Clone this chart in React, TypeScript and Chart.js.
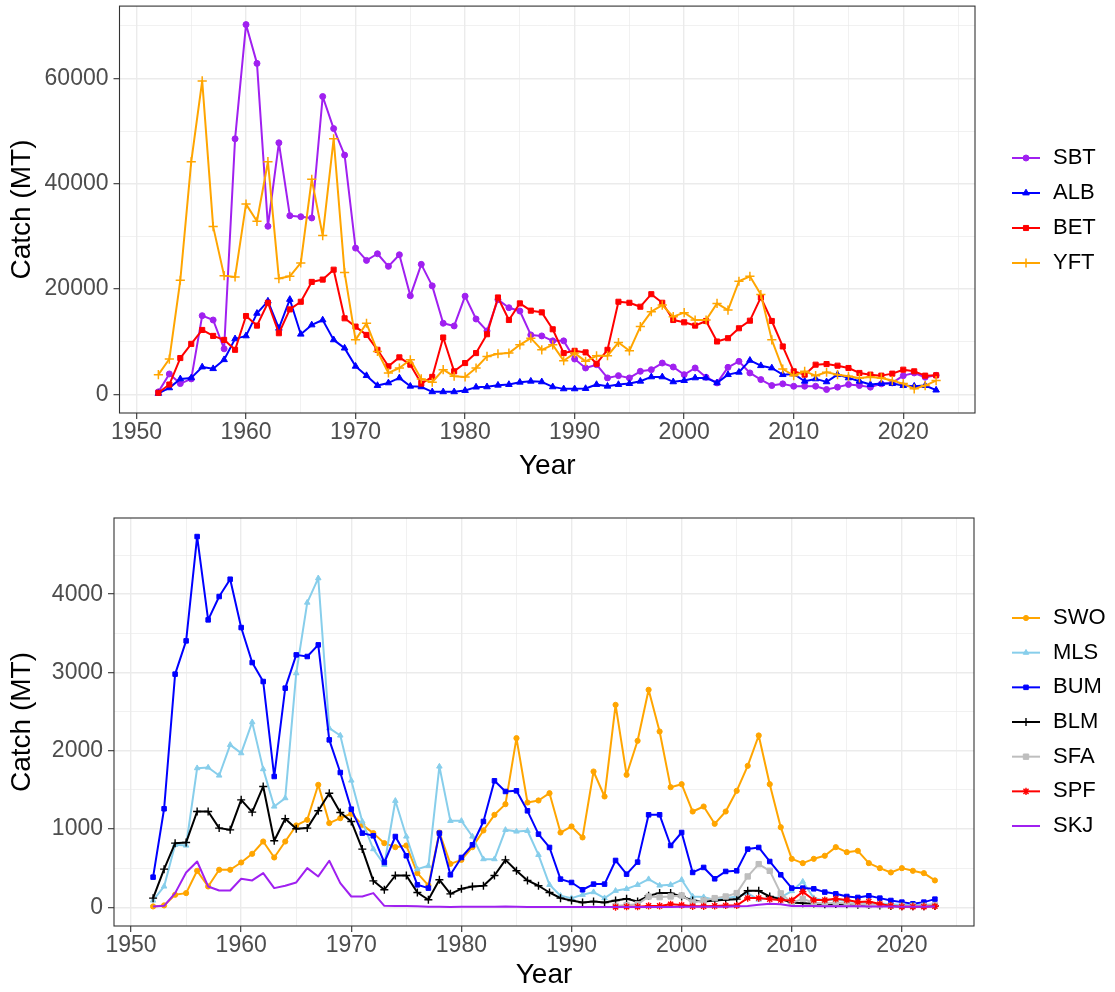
import React, { useEffect, useRef } from 'react';
import { Chart, registerables } from 'chart.js';
import { drawPoint } from 'chart.js/helpers';

Chart.register(...registerables);

const FONT = "'Liberation Sans', Arial, Helvetica, sans-serif";

const YEARS = [
  1952, 1953, 1954, 1955, 1956, 1957, 1958, 1959, 1960, 1961, 1962, 1963, 1964, 1965, 1966, 1967, 1968,
  1969, 1970, 1971, 1972, 1973, 1974, 1975, 1976, 1977, 1978, 1979, 1980, 1981, 1982, 1983, 1984, 1985, 1986, 1987, 1988,
  1989, 1990, 1991, 1992, 1993, 1994, 1995, 1996, 1997, 1998, 1999, 2000, 2001, 2002, 2003, 2004, 2005, 2006, 2007, 2008,
  2009, 2010, 2011, 2012, 2013, 2014, 2015, 2016, 2017, 2018, 2019, 2020, 2021, 2022, 2023,
];
const YEARS_LATE = [
  1994, 1995, 1996, 1997, 1998, 1999, 2000, 2001, 2002, 2003, 2004, 2005, 2006, 2007, 2008,
  2009, 2010, 2011, 2012, 2013, 2014, 2015, 2016, 2017, 2018, 2019, 2020, 2021, 2022, 2023,
];

// ---- Top panel (tunas) ----
const SBT = [
  500, 3900, 2070, 2960, 14960, 14140, 8670, 48520, 70200, 62840, 31930, 47770, 33930, 33740, 33500, 56550, 50460,
  45430, 27780, 25450, 26710, 24320, 26520, 18730, 24700, 20620, 13520, 13010, 18660, 14330, 12070, 18000, 16470, 15840, 11310, 11120, 10180,
  10180, 6730, 5030, 5660, 3150, 3580, 3150, 4400, 4710, 5970, 5220, 3770, 5030, 3280, 2200, 5160, 6290, 4090, 2830, 1700,
  2020, 1570, 1570, 1570, 950, 1400, 1890, 1700, 1400, 2020, 2200, 3580, 4090, 3280, 3650,
];
const ALB = [
  200, 1260, 2960, 3150, 5220, 4900, 6600, 10560, 11120, 15400, 17720, 12570, 18040, 11440, 13200, 14140, 10370,
  8800, 5350, 3580, 1700, 2200, 3150, 1570, 1450, 510, 510, 510, 750, 1400, 1450, 1760, 1890, 2330, 2520, 2400, 1450,
  1070, 1070, 1130, 1890, 1570, 1890, 2070, 2520, 3340, 3340, 2400, 2640, 3150, 3150, 2200, 3770, 4220, 6480, 5470, 5030,
  3770, 3900, 2520, 2960, 2400, 3770, 3150, 2520, 1890, 2070, 2070, 1700, 1570, 1700, 830,
];
const BET = [
  320, 1890, 6920, 9610, 12250, 11120, 10370, 8480, 14890, 13080, 17410, 11630, 16150, 17600, 21370, 21810, 23690,
  14460, 12890, 11310, 8480, 5350, 7050, 5660, 2070, 3340, 10820, 4400, 5970, 7860, 11440, 18420, 14140, 17290, 15910, 15590, 12380,
  7860, 8290, 7990, 5840, 8480, 17600, 17410, 16660, 19040, 17410, 14140, 13700, 13080, 13950, 10060, 10690, 12570, 14010, 18420, 13950,
  9120, 4400, 3770, 5660, 5780, 5470, 5030, 4090, 3770, 3580, 3960, 4710, 4400, 3580, 3650,
];
const YFT = [
  3770, 6730, 21680, 44180, 59510, 31860, 22560, 22320, 36130, 32870, 44180, 22000, 22430, 24960, 40850, 30160, 48520,
  23130, 10370, 13520, 8180, 4090, 5030, 6600, 2960, 2330, 4710, 3460, 3340, 5030, 7230, 7730, 7860, 9430, 10690, 8480, 9430,
  6410, 7860, 6290, 7350, 7350, 9870, 8290, 12890, 15720, 16970, 14770, 15530, 14140, 14140, 17290, 16020, 21490, 22430, 18980, 10370,
  4840, 3580, 4400, 3580, 4220, 3770, 3460, 3150, 3340, 3150, 2640, 2070, 1070, 1700, 2640,
];

// ---- Bottom panel (billfishes etc.) ----
const SWO = [
  13, 26, 162, 183, 468, 268, 481, 481, 574, 685, 842, 638, 842, 1047, 1119, 1566, 1077,
  1140, 1196, 1055, 949, 821, 770, 791, 438, 281, 957, 557, 608, 770, 983, 1183, 1319, 2162, 1340, 1366, 1459,
  957, 1034, 894, 1736, 1417, 2587, 1694, 2128, 2779, 2247, 1536, 1574, 1225, 1289, 1068, 1225, 1489, 1808, 2196, 1574,
  1025, 621, 566, 621, 660, 770, 706, 723, 566, 502, 447, 502, 468, 438, 345,
];
const MLS = [
  89, 268, 800, 791, 1779, 1787, 1685, 2076, 1970, 2366, 1766, 1289, 1396, 2991, 3893, 4204, 2289,
  2196, 1621, 1098, 745, 545, 1362, 906, 489, 532, 1800, 1106, 1106, 906, 617, 617, 991, 970, 979, 672, 289,
  149, 119, 162, 196, 119, 213, 238, 289, 362, 281, 289, 353, 140, 132, 98, 119, 140, 180, 100, 120,
  130, 210, 330, 120, 90, 100, 80, 70, 60, 50, 40, 30, 30, 30, 40,
];
const BUM = [
  387, 1260, 2979, 3404, 4736, 3672, 3970, 4191, 3574, 3127, 2885, 1672, 2800, 3225, 3204, 3353, 2140,
  1723, 1255, 949, 915, 574, 906, 660, 289, 247, 949, 417, 638, 800, 1098, 1617, 1481, 1489, 1234, 936, 766,
  362, 319, 226, 298, 298, 600, 425, 579, 1183, 1183, 791, 957, 447, 511, 366, 460, 468, 745, 766, 587,
  417, 247, 247, 238, 196, 174, 140, 128, 149, 119, 89, 68, 47, 68, 106,
];
const BLM = [
  119, 489, 821, 830, 1225, 1225, 1013, 991, 1374, 1217, 1545, 851, 1132, 1004, 1013, 1234, 1459,
  1213, 1098, 745, 340, 226, 408, 408, 191, 98, 353, 174, 238, 268, 277, 408, 608, 468, 345, 277, 191,
  119, 89, 64, 77, 64, 89, 111, 77, 149, 183, 183, 140, 89, 77, 89, 98, 106, 213, 213, 140,
  106, 64, 55, 50, 40, 45, 40, 35, 30, 25, 20, 15, 15, 15, 20,
];
const SFA = [
  20, 30, 40, 140, 132, 140, 153, 64, 89, 119, 140, 183, 396, 553, 468,
  180, 60, 110, 60, 50, 60, 50, 40, 30, 30, 20, 20, 20, 20, 30,
];
const SPF = [
  5, 10, 10, 20, 20, 40, 30, 15, 15, 20, 25, 25, 120, 120, 105,
  95, 90, 200, 95, 95, 110, 95, 70, 75, 45, 20, 10, 10, 10, 15,
];
const SKJ = [
  13, 21, 183, 447, 587, 268, 217, 217, 366, 345, 438, 247, 277, 319, 502, 396, 596,
  311, 140, 140, 183, 21, 20, 20, 15, 10, 10, 5, 10, 8, 8, 8, 12, 8, 6, 6, 5,
  5, 5, 5, 5, 5, 5, 5, 5, 5, 5, 5, 8, 8, 8, 8, 10, 15, 20, 34, 47,
  40, 20, 18, 18, 15, 15, 15, 15, 12, 12, 12, 10, 10, 10, 12,
];

const X_TICKS = [1950, 1955, 1960, 1965, 1970, 1975, 1980, 1985, 1990, 1995, 2000, 2005, 2010, 2015, 2020, 2025];
const Y_TICKS_TOP = [0, 10000, 20000, 30000, 40000, 50000, 60000, 70000];
const Y_TICKS_BOTTOM = [0, 500, 1000, 1500, 2000, 2500, 3000, 3500, 4000, 4500];

const TICK_SIZE = 23;
const TITLE_SIZE = 28;

const ggPlugin = {
  id: 'gg',
  afterDatasetsDraw(chart: any) {
    const { ctx, chartArea } = chart;
    ctx.save();
    ctx.strokeStyle = '#333333';
    ctx.lineWidth = 1.1;
    ctx.strokeRect(chartArea.left, chartArea.top, chartArea.right - chartArea.left, chartArea.bottom - chartArea.top);
    ctx.restore();
  },
  afterDraw(chart: any, _args: any, opts: any) {
    const ctx = chart.ctx;
    ctx.save();
    chart.data.datasets.forEach((ds: any, i: number) => {
      const y = opts.y0 + i * opts.dy;
      ctx.strokeStyle = ds.borderColor;
      ctx.lineWidth = ds.borderWidth;
      ctx.beginPath();
      ctx.moveTo(opts.x1, y);
      ctx.lineTo(opts.x2, y);
      ctx.stroke();
      if (ds.pointRadius > 0) {
        ctx.fillStyle = ds.pointBackgroundColor;
        ctx.strokeStyle = ds.pointBorderColor;
        ctx.lineWidth = ds.pointBorderWidth;
        drawPoint(ctx, { pointStyle: ds.pointStyle, rotation: 0, radius: ds.pointRadius, borderWidth: ds.pointBorderWidth }, (opts.x1 + opts.x2) / 2, y);
      }
      ctx.fillStyle = '#000000';
      ctx.font = `22px ${FONT}`;
      ctx.textAlign = 'left';
      ctx.textBaseline = 'middle';
      ctx.fillText(ds.label, opts.tx, y);
    });
    ctx.restore();
  },
};

function buildConfig(p: any) {
  const majorX = (v: number) => v % 10 === 0;
  const majorY = (v: number) => Math.abs(v % p.yMajor) < 1e-6;
  return {
    type: 'line',
    data: {
      datasets: p.series.map((s: any, i: number) => ({
        label: s.label,
        data: s.years.map((yr: number, j: number) => ({ x: yr, y: s.values[j] })),
        borderColor: s.color,
        backgroundColor: s.color,
        pointBackgroundColor: s.color,
        pointBorderColor: s.color,
        pointStyle: s.style,
        pointRadius: s.radius,
        pointHoverRadius: s.radius,
        pointBorderWidth: s.bw,
        borderWidth: p.lineWidth,
        borderJoinStyle: 'round',
        tension: 0,
        fill: false,
        order: p.series.length - i,
      })),
    },
    options: {
      animation: false,
      responsive: false,
      maintainAspectRatio: false,
      events: [],
      layout: { padding: { top: p.padTop, right: p.padRight, left: 0, bottom: 0 } },
      plugins: {
        legend: { display: false },
        tooltip: { enabled: false },
        gg: p.legend,
      },
      scales: {
        x: {
          type: 'linear',
          min: p.xMin,
          max: p.xMax,
          afterFit: (s: any) => {
            s.height = p.xAxisHeight;
            s.paddingLeft = 0;
            s.paddingRight = 0;
          },
          afterBuildTicks: (s: any) => { s.ticks = X_TICKS.map((v) => ({ value: v })); },
          ticks: {
            autoSkip: false,
            maxRotation: 0,
            minRotation: 0,
            padding: 0.2,
            color: '#4D4D4D',
            font: { size: TICK_SIZE, family: FONT },
            callback: (v: number) => (majorX(v) ? String(v) : ''),
          },
          grid: {
            color: '#EBEBEB',
            lineWidth: (c: any) => (c.tick && majorX(c.tick.value) ? 1.4 : 0.7),
            tickLength: 6,
            tickWidth: 1.1,
            tickColor: (c: any) => (c.tick && majorX(c.tick.value) ? '#333333' : 'rgba(0,0,0,0)'),
          },
          border: { display: false },
          title: {
            display: true,
            text: 'Year',
            color: '#000000',
            font: { size: TITLE_SIZE, family: FONT },
            padding: { top: 0, bottom: p.xTitlePad },
          },
        },
        y: {
          type: 'linear',
          min: p.yMin,
          max: p.yMax,
          afterFit: (s: any) => {
            s.width = p.yAxisWidth;
            s.paddingTop = 0;
            s.paddingBottom = 0;
          },
          afterBuildTicks: (s: any) => { s.ticks = p.yTicks.map((v: number) => ({ value: v })); },
          ticks: {
            autoSkip: false,
            padding: 5,
            color: '#4D4D4D',
            font: { size: TICK_SIZE, family: FONT },
            callback: (v: number) => (majorY(v) ? String(v) : ''),
          },
          grid: {
            color: '#EBEBEB',
            lineWidth: (c: any) => (c.tick && majorY(c.tick.value) ? 1.4 : 0.7),
            tickLength: 6,
            tickWidth: 1.1,
            tickColor: (c: any) => (c.tick && majorY(c.tick.value) ? '#333333' : 'rgba(0,0,0,0)'),
          },
          border: { display: false },
          title: {
            display: true,
            text: 'Catch (MT)',
            color: '#000000',
            font: { size: TITLE_SIZE, family: FONT },
            padding: { top: 5.2, bottom: 0 },
          },
        },
      },
    },
    plugins: [ggPlugin],
  };
}

const TOP_PANEL = {
  series: [
    { label: 'SBT', years: YEARS, values: SBT, color: '#A020F0', style: 'circle', radius: 3, bw: 1 },
    { label: 'ALB', years: YEARS, values: ALB, color: '#0000FF', style: 'triangle', radius: 3.8, bw: 1 },
    { label: 'BET', years: YEARS, values: BET, color: '#FF0000', style: 'rect', radius: 3.6, bw: 1 },
    { label: 'YFT', years: YEARS, values: YFT, color: '#FFA500', style: 'cross', radius: 4.6, bw: 1.5 },
  ],
  lineWidth: 2,
  xMin: 1948.45, xMax: 2026.55,
  yMin: -3510, yMax: 73710, yTicks: Y_TICKS_TOP, yMajor: 20000,
  padTop: 6, padRight: 140, yAxisWidth: 119.5, xAxisHeight: 83, xTitlePad: 13.2,
  legend: { x1: 1012, x2: 1040, tx: 1053, y0: 158, dy: 35 },
};

const BOTTOM_PANEL = {
  series: [
    { label: 'SWO', years: YEARS, values: SWO, color: '#FFA500', style: 'circle', radius: 2.6, bw: 1 },
    { label: 'MLS', years: YEARS, values: MLS, color: '#87CEEB', style: 'triangle', radius: 3.2, bw: 1 },
    { label: 'BUM', years: YEARS, values: BUM, color: '#0000FF', style: 'rect', radius: 3.2, bw: 1 },
    { label: 'BLM', years: YEARS, values: BLM, color: '#000000', style: 'cross', radius: 4, bw: 1.4 },
    { label: 'SFA', years: YEARS_LATE, values: SFA, color: '#BEBEBE', style: 'rect', radius: 3.8, bw: 1 },
    { label: 'SPF', years: YEARS_LATE, values: SPF, color: '#FF0000', style: 'star', radius: 3.6, bw: 1.4 },
    { label: 'SKJ', years: YEARS, values: SKJ, color: '#A020F0', style: 'circle', radius: 0, bw: 0 },
  ],
  lineWidth: 2,
  xMin: 1948.45, xMax: 2026.55,
  yMin: -236.8, yMax: 4972.8, yTicks: Y_TICKS_BOTTOM, yMajor: 1000,
  padTop: 22, padRight: 141, yAxisWidth: 114, xAxisHeight: 66, xTitlePad: 0.2,
  legend: { x1: 1012, x2: 1040, tx: 1053, y0: 122, dy: 34.67 },
};

function Panel({ panel, top }: { panel: any; top: number }) {
  const ref = useRef<HTMLCanvasElement | null>(null);
  useEffect(() => {
    if (!ref.current) return;
    const chart = new Chart(ref.current, buildConfig(panel) as any);
    return () => chart.destroy();
  }, [panel]);
  return (
    <canvas
      ref={ref}
      width={1115}
      height={496}
      style={{ position: 'absolute', left: 0, top, width: 1115, height: 496, display: 'block' }}
    />
  );
}

export default function App() {
  return (
    <div style={{ position: 'absolute', left: 0, top: 0, width: 1115, height: 992, background: '#FFFFFF', overflow: 'hidden' }}>
      <Panel panel={TOP_PANEL} top={0} />
      <Panel panel={BOTTOM_PANEL} top={496} />
    </div>
  );
}
